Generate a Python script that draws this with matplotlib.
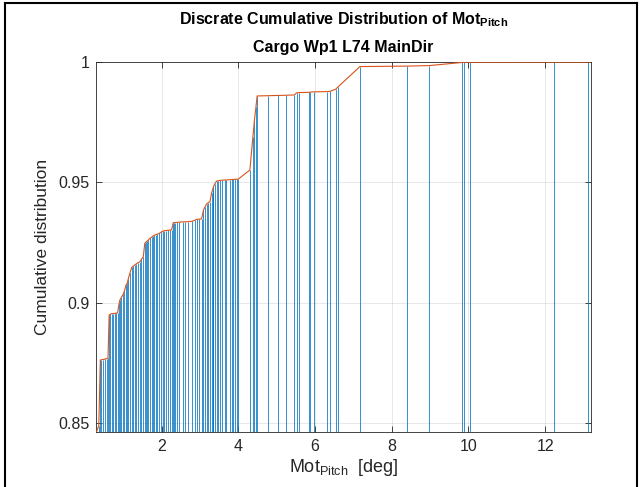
import matplotlib
matplotlib.use("Agg")
import matplotlib.pyplot as plt
from matplotlib.lines import Line2D

plt.rcParams['font.family'] = ['Liberation Sans', 'DejaVu Sans']
plt.rcParams['mathtext.fontset'] = 'custom'
plt.rcParams['mathtext.rm'] = 'Liberation Sans'
plt.rcParams['mathtext.it'] = 'Liberation Sans:italic'
plt.rcParams['mathtext.bf'] = 'Liberation Sans:bold'

# pitch motion values [deg]
pitch = [0.30, 0.36, 0.40, 0.42, 0.47, 0.52, 0.57, 0.60, 0.63, 0.66, 0.70, 0.74,
         0.78, 0.82, 0.85, 0.89, 0.91, 0.95, 1.00, 1.03, 1.07, 1.10, 1.13, 1.17,
         1.22, 1.26, 1.30, 1.34, 1.38, 1.43, 1.47, 1.52, 1.56, 1.59, 1.62, 1.65,
         1.69, 1.74, 1.78, 1.80, 1.85, 1.89, 1.94, 1.97, 2.03, 2.06, 2.11, 2.17,
         2.22, 2.26, 2.30, 2.32, 2.36, 2.41, 2.46, 2.55, 2.62, 2.69, 2.78, 2.86,
         2.91, 2.97, 3.04, 3.09, 3.13, 3.17, 3.22, 3.26, 3.30, 3.33, 3.35, 3.39,
         3.43, 3.48, 3.52, 3.57, 3.65, 3.69, 3.78, 3.83, 3.87, 3.91, 3.96, 4.00,
         4.30, 4.38, 4.42, 4.46, 4.49, 4.77, 5.03, 5.25, 5.46, 5.52, 5.59, 5.85,
         5.88, 5.96, 6.31, 6.39, 6.54, 6.59, 7.17, 8.41, 8.97, 9.83, 9.88, 10.05,
         12.22, 13.12, 13.19]

# cumulative distribution values
cdf = [0.8463, 0.8490, 0.8762, 0.8763, 0.8764, 0.8766, 0.8768, 0.8770, 0.8949, 0.8952, 0.8955, 0.8955,
       0.8956, 0.8957, 0.8958, 0.8997, 0.9011, 0.9022, 0.9036, 0.9050, 0.9073, 0.9081, 0.9100, 0.9122,
       0.9147, 0.9152, 0.9157, 0.9162, 0.9166, 0.9170, 0.9180, 0.9191, 0.9247, 0.9252, 0.9256, 0.9260,
       0.9267, 0.9272, 0.9278, 0.9280, 0.9283, 0.9285, 0.9288, 0.9292, 0.9297, 0.9299, 0.9300, 0.9301,
       0.9302, 0.9303, 0.9332, 0.9333, 0.9333, 0.9334, 0.9335, 0.9336, 0.9336, 0.9337, 0.9338, 0.9342,
       0.9346, 0.9347, 0.9348, 0.9385, 0.9398, 0.9410, 0.9416, 0.9420, 0.9454, 0.9470, 0.9482, 0.9495,
       0.9505, 0.9507, 0.9508, 0.9509, 0.9510, 0.9510, 0.9511, 0.9512, 0.9512, 0.9513, 0.9513, 0.9514,
       0.9551, 0.9690, 0.9760, 0.9814, 0.9859, 0.9860, 0.9861, 0.9862, 0.9863, 0.9872, 0.9873, 0.9874,
       0.9875, 0.9876, 0.9877, 0.9878, 0.9887, 0.9895, 0.9981, 0.9983, 0.9985, 0.9998, 0.9999, 0.99993,
       0.99996, 0.99998, 1.0]

xticks = [2, 4, 6, 8, 10, 12]
yticks = [0.85, 0.9, 0.95, 1.0]
ytick_labels = ['0.85', '0.9', '0.95', '1']

W, H = 641, 487
fig = plt.figure(figsize=(W / 100, H / 100), dpi=100)
fig.patch.set_facecolor('white')
ax = fig.add_axes([96.5 / W, 1 - 432 / H, (590.7 - 96.5) / W, (432 - 62) / H])

ax.vlines(pitch, 0, cdf, colors='#0072BD', linewidth=0.55, zorder=2)
ax.plot(pitch, cdf, color='#D95319', linewidth=0.8, zorder=3)

ax.set_xlim(min(pitch), max(pitch))
ax.set_ylim(min(cdf), 1.0)
ax.set_xticks(xticks)
ax.set_yticks(yticks)
ax.set_yticklabels(ytick_labels)

ax.grid(True, color='#262626', alpha=0.12, linewidth=0.6, zorder=0)
ax.set_axisbelow(True)
for s in ax.spines.values():
    s.set_color('#262626')
    s.set_linewidth(0.6)
ax.tick_params(direction='in', length=4, width=0.6, colors='#262626',
               labelsize=11.5, top=True, right=True, pad=5)

ax.set_xlabel(r'Mot$_{\mathrm{Pitch}}$  [deg]', fontsize=13, color='#262626', labelpad=2)
ax.set_ylabel('Cumulative distribution', fontsize=12.5, color='#262626', labelpad=6)
ax.set_title('Discrate Cumulative Distribution of Mot$_{\\mathbf{Pitch}}$\nCargo Wp1 L74 MainDir',
             fontsize=11.5, fontweight='bold', color='black', linespacing=1.9, pad=7)

# figure frame
for (x0, y0, x1, y1) in [(5 / W, 0, 5 / W, 1 - 3 / H), (5 / W, 1 - 3 / H, 637 / W, 1 - 3 / H),
                         (637 / W, 1 - 3 / H, 637 / W, 0)]:
    fig.add_artist(Line2D([x0, x1], [y0, y1], transform=fig.transFigure, color='black', linewidth=1.5))

fig.savefig('out.png', dpi=100, facecolor='white')
